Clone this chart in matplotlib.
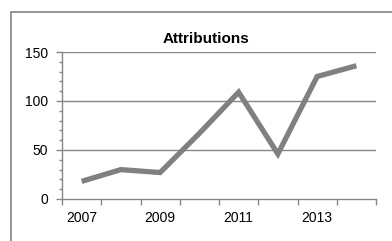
import matplotlib.pyplot as plt
from matplotlib.patches import Rectangle
from matplotlib.ticker import MultipleLocator, FixedLocator, FixedFormatter

plt.rcParams['font.family'] = ['Liberation Sans', 'DejaVu Sans']

# data
years = [2007, 2008, 2009, 2010, 2011, 2012, 2013, 2014]
attributions = [18, 30, 27, 67, 109, 46, 125, 136]

W, H = 392, 241
fig = plt.figure(figsize=(W / 100, H / 100), dpi=100)
fig.patch.set_facecolor('white')

# outer chart border (cut off at right and bottom like the reference)
fig.patches.append(Rectangle((11 / W, -0.05), 1.0, 1 - 12 / H + 0.05,
                             transform=fig.transFigure, fill=False,
                             edgecolor='#808080', linewidth=1.2, clip_on=False))

ax = fig.add_axes([62 / W, 1 - 199 / H, (376 - 62) / W, (199 - 52) / H])

x = list(range(len(years)))
ax.plot(x, attributions, color='#808080', linewidth=3.8, solid_joinstyle='miter',
        solid_capstyle='butt')

ax.set_xlim(-0.5, len(years) - 0.5)
ax.set_ylim(0, 150)

# gridlines
for v in [50, 100, 150]:
    ax.axhline(v, color='#868686', linewidth=1.0, zorder=0)

for s in ['top', 'right']:
    ax.spines[s].set_visible(False)
for s in ['left', 'bottom']:
    ax.spines[s].set_color('#868686')
    ax.spines[s].set_linewidth(1.0)

# y ticks
ax.yaxis.set_major_locator(MultipleLocator(50))
ax.yaxis.set_minor_locator(MultipleLocator(10))
ax.tick_params(axis='y', which='major', direction='out', length=4, width=1,
               color='#868686', pad=6, labelsize=10)
ax.tick_params(axis='y', which='minor', direction='out', length=2.5, width=1,
               color='#868686')

# x ticks: marks at category boundaries, labels at every other category
ax.xaxis.set_major_locator(FixedLocator([i - 0.5 for i in range(len(years) + 1)]))
ax.xaxis.set_major_formatter(FixedFormatter([''] * (len(years) + 1)))
ax.xaxis.set_minor_locator(FixedLocator(x[::2]))
ax.xaxis.set_minor_formatter(FixedFormatter([str(y) for y in years[::2]]))
ax.tick_params(axis='x', which='major', direction='out', length=4, width=1,
               color='#868686')
ax.tick_params(axis='x', which='minor', length=0, pad=9, labelsize=10)

fig.text(206 / W, 1 - 39 / H, 'Attributions', ha='center', va='center',
         fontsize=11, fontweight='bold')

fig.savefig('out.png', dpi=100)
